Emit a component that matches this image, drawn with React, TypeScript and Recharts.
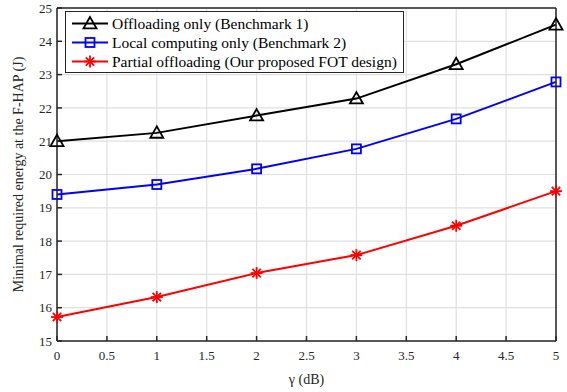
import React from "react";
import { LineChart, Line, XAxis, YAxis, CartesianGrid, Legend } from "recharts";

const gammaDb = [0, 1, 2, 3, 4, 5];
const offloadingOnly = [21.0, 21.25, 21.77, 22.28, 23.31, 24.5];
const localComputingOnly = [19.4, 19.7, 20.17, 20.77, 21.67, 22.78];
const partialOffloading = [15.72, 16.32, 17.04, 17.58, 18.46, 19.5];
const xTicks = [0, 0.5, 1, 1.5, 2, 2.5, 3, 3.5, 4, 4.5, 5];
const yTicks = [15, 16, 17, 18, 19, 20, 21, 22, 23, 24, 25];

const series = [
  { key: "off", name: "Offloading only (Benchmark 1)", color: "#000000", marker: "triangle" },
  { key: "local", name: "Local computing only (Benchmark 2)", color: "#0000ff", marker: "square" },
  { key: "partial", name: "Partial offloading (Our proposed FOT design)", color: "#ff0000", marker: "star" },
];

const data = gammaDb.map((g, i) => ({
  gamma: g,
  off: offloadingOnly[i],
  local: localComputingOnly[i],
  partial: partialOffloading[i],
}));

const FONT = "Liberation Serif, Times New Roman, serif";
const AXIS = "#262626";

function Marker({ type, cx, cy, color }: { type: string; cx: number; cy: number; color: string }) {
  if (type === "triangle") {
    const s = 6.5;
    return (
      <polygon
        points={`${cx},${cy - s} ${cx - s},${cy + s * 0.75} ${cx + s},${cy + s * 0.75}`}
        fill="none"
        stroke={color}
        strokeWidth={1.8}
      />
    );
  }
  if (type === "square") {
    const s = 4.5;
    return <rect x={cx - s} y={cy - s} width={2 * s} height={2 * s} fill="none" stroke={color} strokeWidth={1.8} />;
  }
  const r = 6;
  const d = r * 0.7;
  return (
    <g stroke={color} strokeWidth={1.8}>
      <line x1={cx - r} y1={cy} x2={cx + r} y2={cy} />
      <line x1={cx} y1={cy - r} x2={cx} y2={cy + r} />
      <line x1={cx - d} y1={cy - d} x2={cx + d} y2={cy + d} />
      <line x1={cx - d} y1={cy + d} x2={cx + d} y2={cy - d} />
    </g>
  );
}

function makeDot(type: string, color: string) {
  return (props: any) => {
    const { cx, cy, index } = props;
    if (cx == null || cy == null) return <g key={index} />;
    return (
      <g key={index}>
        <Marker type={type} cx={cx} cy={cy} color={color} />
      </g>
    );
  };
}

function LegendBox() {
  return (
    <div
      style={{
        background: "#fff",
        border: `1.5px solid ${AXIS}`,
        padding: "2px 6px 1px 6px",
        fontFamily: FONT,
        fontSize: 15.5,
        color: "#000",
        lineHeight: "19px",
      }}
    >
      {series.map((s) => (
        <div key={s.key} style={{ display: "flex", alignItems: "center", whiteSpace: "nowrap" }}>
          <svg width={36} height={19} style={{ marginRight: 4 }}>
            <line x1={0} y1={9.5} x2={36} y2={9.5} stroke={s.color} strokeWidth={2} />
            <Marker type={s.marker} cx={18} cy={9.5} color={s.color} />
          </svg>
          <span>{s.name}</span>
        </div>
      ))}
    </div>
  );
}

const tickStyle = { fill: AXIS, fontSize: 13, fontFamily: FONT, style: { fontFamily: FONT } };

export default function App() {
  return (
    <div
      style={{
        position: "absolute",
        left: 0,
        top: 0,
        width: 567,
        height: 392,
        background: "#fff",
        fontFamily: FONT,
      }}
    >
      <LineChart width={567} height={392} data={data} margin={{ top: 7, right: 10, bottom: 0, left: 0 }}>
        <CartesianGrid stroke="#e0e0e0" strokeWidth={1.2} />
        <XAxis
          dataKey="gamma"
          type="number"
          domain={[0, 5]}
          ticks={xTicks}
          interval={0}
          height={51}
          stroke={AXIS}
          strokeWidth={1.5}
          tickSize={-5}
          tickMargin={15}
          tick={tickStyle}
          label={{
            value: "γ (dB)",
            position: "insideBottom",
            offset: 8,
            fill: AXIS,
            fontSize: 14,
            style: { fontFamily: FONT },
          }}
        />
        <XAxis
          xAxisId="top"
          orientation="top"
          type="number"
          domain={[0, 5]}
          ticks={xTicks}
          interval={0}
          height={1}
          stroke={AXIS}
          strokeWidth={1.5}
          tickSize={-5}
          tick={false}
        />
        <YAxis
          type="number"
          domain={[15, 25]}
          ticks={yTicks}
          interval={0}
          width={57}
          stroke={AXIS}
          strokeWidth={1.5}
          tickSize={-5}
          tickMargin={10}
          tick={tickStyle}
          label={{
            value: "Minimal required energy at the F-HAP (J)",
            angle: -90,
            position: "insideLeft",
            offset: 18,
            style: { textAnchor: "middle", fontFamily: FONT },
            fill: AXIS,
            fontSize: 14,
          }}
        />
        <YAxis
          yAxisId="right"
          orientation="right"
          type="number"
          domain={[15, 25]}
          ticks={yTicks}
          interval={0}
          width={1}
          stroke={AXIS}
          strokeWidth={1.5}
          tickSize={-5}
          tick={false}
        />
        <Legend
          layout="vertical"
          align="center"
          verticalAlign="middle"
          wrapperStyle={{ left: 65, top: 11, width: "auto" }}
          content={() => <LegendBox />}
        />
        {series.map((s) => (
          <Line
            key={s.key}
            type="linear"
            dataKey={s.key}
            name={s.name}
            stroke={s.color}
            strokeWidth={2}
            dot={makeDot(s.marker, s.color)}
            activeDot={false}
            isAnimationActive={false}
          />
        ))}
      </LineChart>
    </div>
  );
}
